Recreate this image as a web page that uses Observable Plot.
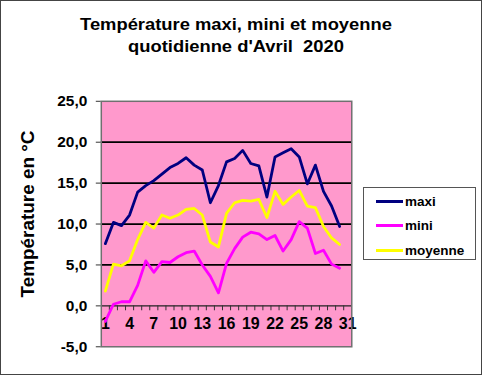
<!DOCTYPE html>
<html>
<head>
<meta charset="utf-8">
<script src="https://cdn.jsdelivr.net/npm/d3@7"></script>
<script src="https://cdn.jsdelivr.net/npm/@observablehq/plot@0.6"></script>
<style>
  html, body { margin: 0; padding: 0; background: #fff; }
  #wrap { position: relative; width: 482px; height: 375px; box-sizing: border-box; border: 1px solid #444; overflow: hidden;
          font-family: "Liberation Sans", Arial, sans-serif; }
  #chart { position: absolute; left: -1px; top: -1px; }
  #title { position: absolute; left: 0; top: 13px; width: 470px; text-align: center; font-weight: bold;
           font-size: 17px; line-height: 22px; color: #000; transform: scaleX(1.08); }
  #ytitle { position: absolute; left: -123px; top: 203px; width: 300px; height: 20px; line-height: 20px;
            text-align: center; font-weight: bold; font-size: 17.5px; color: #000;
            transform: rotate(-90deg) scaleX(1.08); transform-origin: center; white-space: nowrap; }
  #legend { position: absolute; left: 362px; top: 186px; width: 113px; height: 73px; box-sizing: border-box;
            border: 1px solid #555; background: #fff; }
  .item { position: absolute; left: 12px; height: 16px; display: flex; align-items: center; font-weight: bold; font-size: 13.5px; }
  .sw { width: 27px; height: 3px; margin-right: 2px; }
</style>
</head>
<body>
<div id="wrap">
  <div id="chart"></div>
  <div id="title">Température maxi, mini et moyenne<br>quotidienne d'Avril&nbsp;&nbsp;2020</div>
  <div id="ytitle">Température en °C</div>
  <div id="legend"></div>
</div>
<script>
const days = [1,2,3,4,5,6,7,8,9,10,11,12,13,14,15,16,17,18,19,20,21,22,23,24,25,26,27,28,29,30];
const maxi = [7.6,10.2,9.8,11.1,13.9,14.7,15.3,16.1,16.9,17.4,18.1,17.2,16.6,12.6,14.7,17.6,18.0,19.0,17.4,17.1,13.3,18.2,18.7,19.2,18.2,14.9,17.2,14.0,12.2,9.7];
const mini = [-1.9,0.2,0.5,0.5,2.5,5.5,4.1,5.4,5.3,6.0,6.5,6.7,5.0,3.6,1.6,5.2,7.0,8.4,9.0,8.8,8.1,8.6,6.7,8.1,10.3,9.5,6.4,6.8,5.1,4.6];
const moyenne = [1.8,5.1,4.9,5.5,8.1,10.2,9.5,11.1,10.7,11.1,11.8,11.9,11.1,7.8,7.2,11.3,12.6,12.9,12.8,13.0,10.8,14.0,12.4,13.3,14.1,12.2,12.0,9.7,8.3,7.5];
const seriesNames = ["maxi", "mini", "moyenne"];
const seriesColors = ["#000080", "#FF00FF", "#FFFF00"];
const yTicks = [-5, 0, 5, 10, 15, 20, 25];
const gridLines = [5, 10, 15, 20];
const xLabels = [1,4,7,10,13,16,19,22,25,28,31];
const xBoundaries = [0.5,1.5,2.5,3.5,4.5,5.5,6.5,7.5,8.5,9.5,10.5,11.5,12.5,13.5,14.5,15.5,16.5,17.5,18.5,19.5,20.5,21.5,22.5,23.5,24.5,25.5,26.5,27.5,28.5,29.5,30.5,31.5];

const values = [maxi, mini, moyenne];
const rows = [];
seriesNames.forEach((s, i) => days.forEach((d, j) => rows.push({day: d, value: values[i][j], serie: s})));

const fmt = v => v.toFixed(1).replace(".", ",");

const chart = Plot.plot({
  width: 482, height: 375,
  marginLeft: 101, marginRight: 130, marginTop: 101, marginBottom: 28,
  style: {background: "transparent", fontFamily: "'Liberation Sans', Arial, sans-serif", color: "#000"},
  x: {domain: [0.5, 31.5], axis: null},
  y: {domain: [-5, 25], axis: null},
  color: {domain: seriesNames, range: seriesColors},
  marks: [
    Plot.frame({fill: "#FF99CC", stroke: "none"}),
    Plot.ruleY(gridLines, {stroke: "#000", strokeWidth: 1.8}),
    Plot.ruleY([0], {stroke: "#222", strokeWidth: 1.2}),
    Plot.ruleX(xBoundaries.slice(1, -1), {y1: 0, y2: -0.6, stroke: "#333", strokeWidth: 1}),
    Plot.axisY({ticks: yTicks, tickSize: 5, tickPadding: 9, tickFormat: fmt, fontSize: 15.5, fontWeight: "bold", label: null, stroke: "#333"}),
    Plot.text(xLabels, {x: d => d, y: 0, dy: 18, text: d => String(d), fontSize: 16, fontWeight: "bold", fill: "#000"}),
    Plot.line(rows, {x: "day", y: "value", z: "serie", stroke: "serie", strokeWidth: 2.8, strokeLinejoin: "round"}),
    Plot.frame({stroke: "#707070", strokeWidth: 1.5})
  ]
});
document.getElementById("chart").appendChild(chart);

const legend = document.getElementById("legend");
const tops = [5, 29, 54];
seriesNames.forEach((s, i) => {
  const it = document.createElement("div");
  it.className = "item";
  it.style.top = tops[i] + "px";
  it.innerHTML = `<span class="sw" style="background:${seriesColors[i]}"></span><span>${s}</span>`;
  legend.appendChild(it);
});
</script>
</body>
</html>
